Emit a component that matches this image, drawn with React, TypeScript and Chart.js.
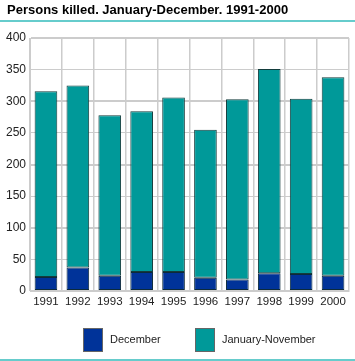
import React, { useEffect, useRef } from "react";
import { Chart, registerables } from "chart.js";

Chart.register(...registerables);

const years = ["1991", "1992", "1993", "1994", "1995", "1996", "1997", "1998", "1999", "2000"];
const december = [22, 37, 24, 30, 30, 21, 18, 28, 27, 24];
const januaryNovember = [294, 288, 254, 254, 276, 234, 285, 323, 277, 314];
const seriesLabels = ["December", "January-November"];
const titleText = "Persons killed. January-December. 1991-2000";

const DEC_COLOR = "#003399";
const JN_COLOR = "#009999";
const FONT = "'Liberation Sans', Arial, sans-serif";

const decorPlugin = {
  id: "decor",
  beforeDraw(chart: any) {
    const ctx = chart.ctx;
    ctx.save();
    ctx.fillStyle = "#ffffff";
    ctx.fillRect(0, 0, chart.width, chart.height);
    ctx.restore();
  },
  afterDraw(chart: any) {
    const ctx = chart.ctx;
    ctx.save();
    // title
    ctx.fillStyle = "#000000";
    ctx.font = `bold 13px ${FONT}`;
    ctx.textBaseline = "middle";
    ctx.textAlign = "left";
    ctx.fillText(titleText, 7, 10);
    // teal rules
    ctx.fillStyle = "#66cccc";
    ctx.fillRect(0, 20, chart.width, 2);
    ctx.fillRect(0, chart.height - 2, chart.width, 2);
    // legend
    ctx.font = `11px ${FONT}`;
    const datasets = chart.data.datasets;
    const xs = [83, 195];
    datasets.forEach((ds: any, i: number) => {
      const x = xs[i];
      const y = 328;
      ctx.fillStyle = ds.backgroundColor;
      ctx.fillRect(x, y, 20, 24);
      ctx.strokeStyle = "#666666";
      ctx.lineWidth = 1;
      ctx.strokeRect(x + 0.5, y + 0.5, 19, 23);
      ctx.fillStyle = "#222222";
      ctx.textBaseline = "middle";
      ctx.fillText(ds.label, x + 27, y + 12);
    });
    ctx.restore();
  },
};

export default function App() {
  const ref = useRef<HTMLCanvasElement | null>(null);
  useEffect(() => {
    document.body.style.margin = "0";
    const canvas = ref.current;
    if (!canvas) return;
    const chart = new Chart(canvas, {
      type: "bar",
      data: {
        labels: years,
        datasets: [
          {
            label: seriesLabels[0],
            data: december,
            backgroundColor: DEC_COLOR,
            borderColor: "#0c2a3a",
            borderWidth: 1,
            borderSkipped: false,
            categoryPercentage: 1,
            barPercentage: 0.71,
          },
          {
            label: seriesLabels[1],
            data: januaryNovember,
            backgroundColor: JN_COLOR,
            borderColor: "#133c3c",
            borderWidth: 1,
            borderSkipped: false,
            categoryPercentage: 1,
            barPercentage: 0.71,
          },
        ],
      },
      options: {
        responsive: false,
        animation: false,
        devicePixelRatio: 1,
        layout: { padding: { top: 38, bottom: 50, left: 0, right: 6 } },
        plugins: {
          legend: { display: false },
          title: { display: false },
          tooltip: { enabled: false },
        },
        scales: {
          x: {
            stacked: true,
            grid: {
              offset: true,
              color: "#cccccc",
              lineWidth: 1.5,
              drawTicks: false,
            },
            border: { color: "#cccccc", width: 1 },
            ticks: {
              color: "#222222",
              font: { family: FONT, size: 11.5 },
              padding: 4,
              maxRotation: 0,
            },
            afterFit(scale: any) {
              scale.height = 20;
            },
          },
          y: {
            stacked: true,
            min: 0,
            max: 400,
            grid: {
              color: "#cccccc",
              lineWidth: (ctx: any) => (ctx.tick && ctx.tick.value % 100 === 0 ? 2 : 1),
              drawTicks: false,
            },
            border: { color: "#cccccc", width: 1 },
            ticks: {
              stepSize: 50,
              color: "#222222",
              font: { family: FONT, size: 12 },
              padding: 4,
            },
            afterFit(scale: any) {
              scale.width = 30;
            },
          },
        },
      },
      plugins: [decorPlugin],
    });
    return () => chart.destroy();
  }, []);
  return (
    <div style={{ width: 355, height: 361 }}>
      <canvas ref={ref} width={355} height={361} style={{ display: "block" }} />
    </div>
  );
}
